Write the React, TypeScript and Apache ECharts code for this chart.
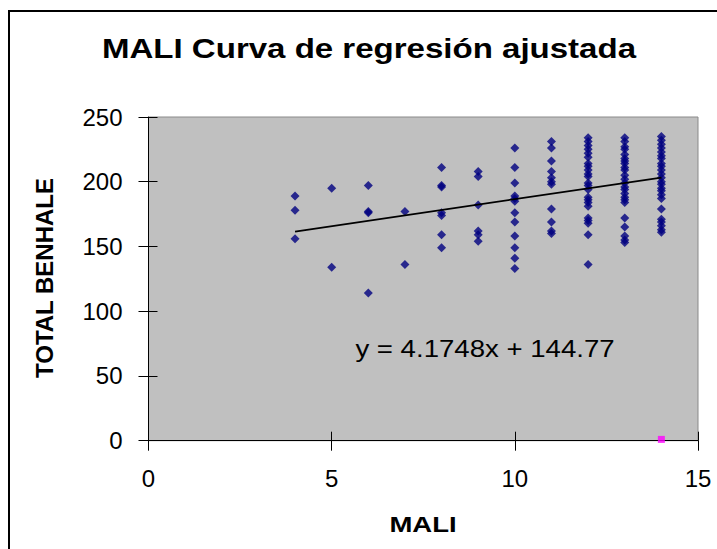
import React, { useEffect, useRef } from "react";
import * as echarts from "echarts";

// ---- data ----
const maliValues = [4, 5, 6, 7, 8, 9, 10, 11, 12, 13, 14];
const benhale4 = [189, 178, 156];
const benhale5 = [195, 134];
const benhale6 = [197, 177, 176, 114];
const benhale7 = [177, 136];
const benhale8 = [211, 197, 196, 176, 174, 159, 149];
const benhale9 = [208, 204, 182, 162, 159, 154];
const benhale10 = [226, 211, 199, 189, 187, 185, 176, 169, 158, 149, 141, 133];
const benhale11 = [231, 226, 216, 208, 203, 200, 198, 179, 169, 162, 160];
const benhale12 = [234, 231, 228, 225, 222, 219, 214, 212, 209, 206, 204, 199, 197, 194, 188, 186, 184, 181, 172, 170, 168, 159, 136];
const benhale13 = [234, 231, 227, 225, 221, 218, 216, 214, 211, 209, 205, 202, 199, 196, 194, 191, 188, 186, 184, 172, 165, 158, 155, 153];
const benhale14 = [235, 232, 229, 226, 223, 220, 218, 214, 212, 209, 206, 203, 200, 198, 195, 193, 190, 187, 179, 171, 169, 166, 163, 161];
const benhaleColumns = [benhale4, benhale5, benhale6, benhale7, benhale8, benhale9, benhale10, benhale11, benhale12, benhale13, benhale14];

const extraX = [14];
const extraY = [1];

const trendSlope = 4.1748;
const trendIntercept = 144.77;
const trendRange = [4, 14];

const xTicks = { min: 0, max: 15, interval: 5 };
const yTicks = { min: 0, max: 250, interval: 50 };

const FONT = "'Liberation Sans', Arial, sans-serif";

export default function App() {
  const ref = useRef<HTMLDivElement>(null);

  useEffect(() => {
    document.body.style.margin = "0";
    if (!ref.current) return;
    const chart = echarts.init(ref.current, undefined, { renderer: "svg" });

    const scatterData: number[][] = [];
    maliValues.forEach((x, i) => {
      benhaleColumns[i].forEach((y) => scatterData.push([x, y]));
    });
    const extraData = extraX.map((x, i) => [x, extraY[i]]);
    const trendData = trendRange.map((x) => [x, trendSlope * x + trendIntercept]);

    const baseX = {
      type: "value",
      min: xTicks.min,
      max: xTicks.max,
      interval: xTicks.interval,
      splitLine: { show: false },
    };
    const baseY = {
      type: "value",
      min: yTicks.min,
      max: yTicks.max,
      interval: yTicks.interval,
      splitLine: { show: false },
    };

    chart.setOption({
      animation: false,
      backgroundColor: "#ffffff",
      grid: {
        left: 148.5,
        top: 117,
        right: 19,
        bottom: 108.3,
        show: true,
        backgroundColor: "#C0C0C0",
        borderColor: "#8a8a8a",
        borderWidth: 1,
      },
      xAxis: [
        {
          ...baseX,
          axisLine: { show: true, onZero: false, lineStyle: { color: "#000", width: 1 } },
          axisTick: { show: true, inside: false, length: 10, lineStyle: { color: "#000" } },
          axisLabel: { color: "#000", fontSize: 24, fontFamily: FONT, margin: 26 },
        },
        {
          ...baseX,
          position: "bottom",
          axisLine: { show: false },
          axisTick: { show: true, inside: true, length: 9, lineStyle: { color: "#000" } },
          axisLabel: { show: false },
        },
      ],
      yAxis: [
        {
          ...baseY,
          axisLine: { show: true, onZero: false, lineStyle: { color: "#000", width: 1 } },
          axisTick: { show: true, inside: false, length: 10, lineStyle: { color: "#000" } },
          axisLabel: { color: "#000", fontSize: 24, fontFamily: FONT, margin: 26 },
        },
        {
          ...baseY,
          position: "left",
          axisLine: { show: false },
          axisTick: { show: true, inside: true, length: 9, lineStyle: { color: "#000" } },
          axisLabel: { show: false },
        },
      ],
      series: [
        {
          type: "scatter",
          data: scatterData,
          symbol: "diamond",
          symbolSize: 9,
          itemStyle: { color: "#000080" },
          z: 3,
        },
        {
          type: "line",
          data: trendData,
          showSymbol: false,
          symbol: "none",
          lineStyle: { color: "#000", width: 1.8 },
          z: 4,
        },
        {
          type: "scatter",
          data: extraData,
          symbol: "rect",
          symbolSize: 7,
          itemStyle: { color: "#FF00FF" },
          z: 5,
        },
      ],
      graphic: [
        {
          type: "rect",
          shape: { x: 9, y: 11, width: 800, height: 700 },
          style: { fill: "none", stroke: "#000", lineWidth: 2 },
          silent: true,
          z: 100,
        },
        {
          type: "text",
          x: 369,
          y: 48,
          scaleX: 1.18,
          style: {
            text: "MALI Curva de regresión ajustada",
            font: `bold 28px ${FONT}`,
            fill: "#000",
            align: "center",
            verticalAlign: "middle",
          },
          z: 100,
        },
        {
          type: "text",
          x: 485,
          y: 349,
          scaleX: 1.2,
          style: {
            text: "y = 4.1748x + 144.77",
            font: `23px ${FONT}`,
            fill: "#000",
            align: "center",
            verticalAlign: "middle",
          },
          z: 100,
        },
        {
          type: "text",
          x: 423,
          y: 524.5,
          scaleX: 1.25,
          style: {
            text: "MALI",
            font: `bold 22px ${FONT}`,
            fill: "#000",
            align: "center",
            verticalAlign: "middle",
          },
          z: 100,
        },
        {
          type: "text",
          x: 44,
          y: 278,
          rotation: Math.PI / 2,
          style: {
            text: "TOTAL BENHALE",
            font: `bold 24px ${FONT}`,
            fill: "#000",
            align: "center",
            verticalAlign: "middle",
          },
          z: 100,
        },
      ],
    });

    return () => chart.dispose();
  }, []);

  return <div ref={ref} style={{ width: 717, height: 549 }} />;
}
